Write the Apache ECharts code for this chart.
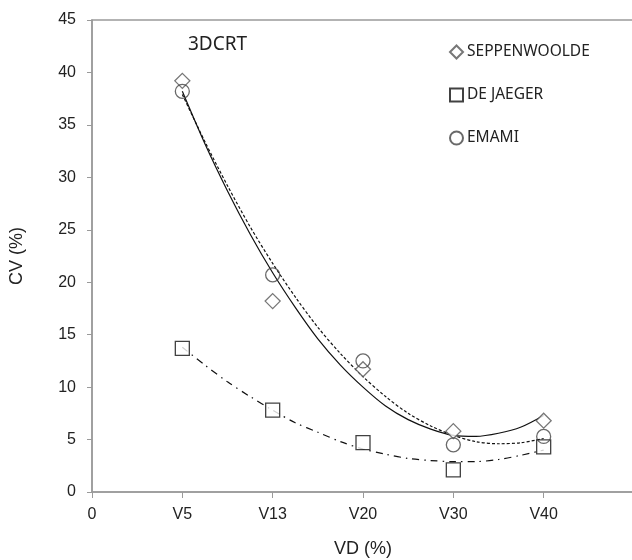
<!DOCTYPE html>
<html>
<head>
<meta charset="utf-8">
<script src="https://cdn.jsdelivr.net/npm/echarts@6/dist/echarts.min.js"></script>
<style>
  html, body { margin: 0; padding: 0; background: #fff; }
  #chart { width: 632px; height: 560px; }
</style>
</head>
<body>
<div id="chart"></div>
<script>
// x positions: 1 = V5 ... 5 = V40
var xLabels = ['0', 'V5', 'V13', 'V20', 'V30', 'V40', ''];
var xPos = [1, 2, 3, 4, 5];

var seppenwoolde = [39.2, 18.2, 11.7, 5.8, 6.8];
var deJaeger = [13.7, 7.8, 4.7, 2.1, 4.3];
var emami = [38.2, 20.7, 12.5, 4.5, 5.3];

// trend curves at quarter steps (x = 1, 1.25, ... 5)
var trendX = [1, 1.25, 1.5, 1.75, 2, 2.25, 2.5, 2.75, 3, 3.25, 3.5, 3.75, 4, 4.25, 4.5, 4.75, 5];
var trendSepp = [38.2, 33.2, 28.7, 24.6, 20.9, 17.6, 14.6, 12.1, 10.0, 8.2, 6.9, 6.0, 5.4, 5.3, 5.6, 6.2, 7.3];
var trendEmami = [37.9, 33.4, 29.2, 25.3, 21.8, 18.6, 15.7, 13.2, 11.0, 9.1, 7.5, 6.3, 5.4, 4.8, 4.6, 4.7, 5.1];
var trendJaeger = [13.8, 12.1, 10.5, 9.1, 7.8, 6.6, 5.7, 4.8, 4.1, 3.6, 3.2, 3.0, 2.9, 2.9, 3.1, 3.5, 4.0];

function pairs(xs, ys) {
    return xs.map((x, i) => [x, ys[i]]);
}

var chart = echarts.init(document.getElementById('chart'));
var axisGray = '#9a9a9a';
var textCol = '#222';

chart.setOption({
    animation: false,
    backgroundColor: '#fff',
    textStyle: { fontFamily: 'Liberation Sans' },
    grid: {
        left: 92, right: -2, top: 20, bottom: 68,
        outerBoundsMode: 'none',
        containLabel: false,
        show: true, borderColor: axisGray, borderWidth: 1.5
    },
    title: {
        text: '3DCRT',
        left: 183, top: 30,
        textStyle: { fontFamily: 'Noto Sans', fontSize: 19, fontWeight: 'normal', color: '#222' }
    },
    legend: {
        orient: 'vertical',
        left: 444, top: 39,
        itemWidth: 13, itemHeight: 13,
        itemGap: 27,
        data: ['SEPPENWOOLDE', 'DE JAEGER', 'EMAMI'],
        textStyle: { fontFamily: 'Noto Sans', fontSize: 15.5, color: '#222', padding: [0, 0, 0, -1] }
    },
    xAxis: {
        type: 'value',
        min: 0, max: 6, interval: 1,
        name: 'VD (%)',
        nameLocation: 'middle',
        nameGap: 48,
        nameTextStyle: { fontSize: 18, color: textCol },
        axisLine: { lineStyle: { color: axisGray, width: 1.5 } },
        axisTick: { show: true, length: 6, inside: false, lineStyle: { color: axisGray } },
        axisLabel: {
            fontSize: 16, color: textCol, margin: 15,
            formatter: v => xLabels[v]
        },
        splitLine: { show: false }
    },
    yAxis: {
        type: 'value',
        min: 0, max: 45, interval: 5,
        name: 'CV (%)',
        nameLocation: 'middle',
        nameGap: 66,
        nameTextStyle: { fontSize: 18, color: textCol },
        axisLine: { show: true, lineStyle: { color: axisGray, width: 1.5 } },
        axisTick: { show: true, length: 5, lineStyle: { color: axisGray } },
        axisLabel: { fontSize: 16, color: textCol, margin: 16 },
        splitLine: { show: false }
    },
    series: [
        {
            name: 'trend SEPPENWOOLDE',
            type: 'line', smooth: 0.3, showSymbol: false, silent: true,
            data: pairs(trendX, trendSepp),
            lineStyle: { color: '#111', width: 1.2, type: 'solid' }
        },
        {
            name: 'trend EMAMI',
            type: 'line', smooth: 0.3, showSymbol: false, silent: true,
            data: pairs(trendX, trendEmami),
            lineStyle: { color: '#111', width: 1.2, type: [3, 2] }
        },
        {
            name: 'trend DE JAEGER',
            type: 'line', smooth: 0.3, showSymbol: false, silent: true,
            data: pairs(trendX, trendJaeger),
            lineStyle: { color: '#111', width: 1.2, type: [7, 5, 1.5, 5] }
        },
        {
            name: 'SEPPENWOOLDE',
            type: 'scatter',
            symbol: 'diamond', symbolSize: [15, 15],
            data: pairs(xPos, seppenwoolde),
            itemStyle: { color: '#fff', borderColor: '#555', borderWidth: 1.3 },
            z: 5
        },
        {
            name: 'DE JAEGER',
            type: 'scatter',
            symbol: 'rect', symbolSize: 14,
            data: pairs(xPos, deJaeger),
            itemStyle: { color: '#fff', borderColor: '#111', borderWidth: 1.3 },
            z: 5
        },
        {
            name: 'EMAMI',
            type: 'scatter',
            symbol: 'circle', symbolSize: 14,
            data: pairs(xPos, emami),
            itemStyle: { color: 'rgba(255,255,255,0)', borderColor: '#444', borderWidth: 1.3 },
            z: 5
        }
    ]
});

window.addEventListener('resize', function () {
    chart.resize();
});
</script>
</body>
</html>
